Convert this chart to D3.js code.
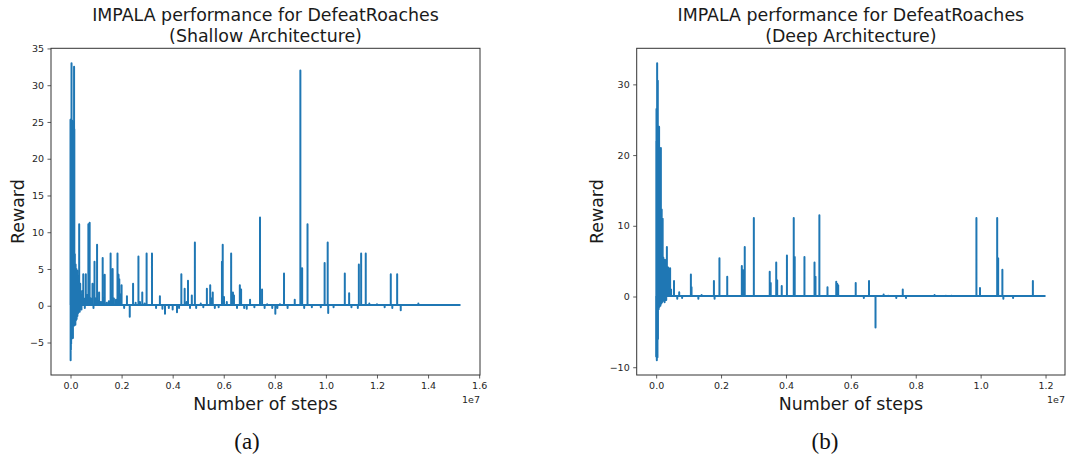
<!DOCTYPE html>
<html><head><meta charset="utf-8">
<script src="https://cdn.jsdelivr.net/npm/d3@7"></script>
<style>body{margin:0;background:#fff}svg{display:block}</style>
</head><body><svg id="c" width="1091" height="458"></svg>
<script>
// ---- data (steps in units of 1e7) ----
const titleA = ["IMPALA performance for DefeatRoaches", "(Shallow Architecture)"];
const titleB = ["IMPALA performance for DefeatRoaches", "(Deep Architecture)"];
const xTicksA = [0, 0.2, 0.4, 0.6, 0.8, 1.0, 1.2, 1.4, 1.6];
const yTicksA = [-5, 0, 5, 10, 15, 20, 25, 30, 35];
const xTicksB = [0, 0.2, 0.4, 0.6, 0.8, 1.0, 1.2];
const yTicksB = [-10, 0, 10, 20, 30];
const baselineA = 0.1, baselineB = 0.08;
const lastStepA = 1.527, lastStepB = 1.2;

const stepsA = [0.000,0.0005,0.001,0.0015,0.002,0.0025,0.003,0.0035,0.004,0.0045,0.005,0.0055,0.006,0.0065,0.007,0.0075,0.008,0.0085,0.009,0.0095,0.010,0.0105,0.011,0.0115,0.012,0.0125,0.013,0.0135,0.014,0.0145,0.015,0.016,0.017,0.018,0.019,0.020,0.021,0.022,0.023,0.024,0.025,0.026,0.027,0.028,0.029,0.030,0.031,0.032,0.034,0.036,0.038,0.041,0.043,0.046,0.050,0.053,0.056,0.060,0.063,0.067,0.070,0.075,0.079,0.086,0.090,0.094,0.098,0.104,0.108,0.112,0.119,0.126,0.130,0.134,0.142,0.150,0.157,0.162,0.165,0.170,0.178,0.184,0.188,0.191,0.195,0.200,0.210,0.221,0.232,0.245,0.255,0.266,0.272,0.281,0.290,0.298,0.319,0.335,0.350,0.360,0.370,0.385,0.400,0.417,0.425,0.434,0.447,0.455,0.460,0.468,0.475,0.487,0.492,0.510,0.520,0.534,0.547,0.552,0.557,0.565,0.580,0.593,0.596,0.601,0.612,0.629,0.636,0.640,0.652,0.663,0.668,0.680,0.690,0.703,0.720,0.742,0.750,0.760,0.770,0.790,0.802,0.810,0.820,0.836,0.850,0.878,0.900,0.904,0.907,0.915,0.928,0.945,0.980,0.995,1.007,1.009,1.030,1.074,1.091,1.100,1.125,1.129,1.138,1.156,1.170,1.200,1.230,1.254,1.260,1.279,1.293,1.362];
const rewardsA = [25.3,-7.4,24.0,-6.0,20.5,-5.2,25.0,-4.0,33.0,-4.5,24.5,-3.0,25.2,-3.5,18.0,-2.5,24.8,-2.0,25.0,-4.4,22.0,-1.8,14.0,-1.5,25.0,-2.2,20.0,-1.2,32.5,-2.7,24.0,-2.0,7.0,5.5,-2.6,5.6,-2.0,4.5,5.0,-1.8,3.5,4.8,-1.4,3.0,4.0,-1.0,2.0,2.5,11.1,-0.8,3.0,1.5,-0.5,2.0,4.3,1.0,-0.3,4.3,1.5,1.2,11.1,11.3,1.0,3.0,-0.3,6.0,1.0,8.3,0.6,1.8,0.5,6.5,1.0,4.2,0.4,0.6,7.1,2.0,5.0,1.0,0.8,7.1,4.2,3.6,1.5,2.8,-0.3,1.3,-1.5,3.0,0.4,6.7,0.5,1.8,0.3,7.1,7.1,-0.3,1.3,-0.4,-1.1,-0.3,-0.5,-0.9,-0.3,4.3,2.3,0.5,3.4,-0.3,1.4,8.6,-0.3,0.3,-0.2,2.3,2.8,1.0,1.8,-0.3,-0.2,6.0,8.3,1.2,0.5,7.1,1.8,1.4,-0.3,2.8,2.2,-0.3,-0.4,0.8,-0.2,12.0,2.2,-0.3,0.2,-0.3,-1.1,-0.3,0.2,4.4,-0.3,0.8,32.0,5.0,5.1,-0.3,11.1,-0.2,-0.2,5.8,8.6,-1.0,-0.2,4.4,1.7,-0.2,-0.3,5.6,7.1,7.1,0.3,0.2,-0.2,4.3,-0.3,4.3,-0.6,0.3];

const stepsB = [0.000,0.0005,0.001,0.0015,0.002,0.0025,0.003,0.0035,0.004,0.0045,0.005,0.0055,0.006,0.0065,0.007,0.0075,0.008,0.0085,0.009,0.0095,0.010,0.011,0.012,0.013,0.0145,0.015,0.016,0.017,0.018,0.019,0.020,0.021,0.022,0.023,0.024,0.025,0.026,0.027,0.028,0.029,0.030,0.031,0.033,0.035,0.037,0.039,0.043,0.046,0.055,0.065,0.071,0.080,0.107,0.109,0.130,0.140,0.178,0.180,0.195,0.219,0.264,0.268,0.273,0.301,0.350,0.353,0.370,0.373,0.387,0.403,0.424,0.427,0.457,0.488,0.491,0.503,0.528,0.555,0.558,0.561,0.615,0.640,0.656,0.676,0.701,0.715,0.740,0.760,0.770,0.858,0.893,0.910,0.987,0.998,1.051,1.054,1.067,1.070,1.100,1.161];
const rewardsB = [-8.5,22.0,26.5,-8.0,-9.0,24.0,33.0,-7.0,-8.6,26.0,30.5,-6.0,-1.5,22.0,2.3,-1.8,-1.5,20.0,24.0,-1.5,-1.2,2.5,21.0,-1.3,21.0,-1.0,-1.0,12.3,-0.8,4.0,11.0,2.0,5.5,-0.6,3.0,4.0,-0.8,5.2,-0.4,3.0,2.5,-0.5,7.0,1.5,4.1,0.5,4.0,1.0,2.2,-0.3,0.6,-0.2,3.1,1.3,-0.3,0.2,2.2,-0.3,5.4,2.8,4.3,3.7,7.0,11.1,3.5,1.9,4.8,2.3,1.5,5.8,11.1,5.6,5.6,4.8,2.8,11.5,1.3,2.1,1.8,1.6,1.9,-0.2,2.2,-4.4,0.3,0.1,-0.2,1.0,-0.2,0.2,0.1,0.1,11.1,1.2,11.1,5.4,3.8,-0.3,-0.2,2.2];

const FONT = "'DejaVu Sans', sans-serif";
const BLUE = "#1f77b4";
const svg = d3.select("#c");
svg.append("rect").attr("width",1091).attr("height",458).attr("fill","#fff");

function panel(opt){
  const {left,right,top,bottom,steps,rewards,base,lastStep,xTicks,yTicks,title,caption,capX} = opt;
  const xExt = [0, lastStep], yExt = d3.extent(rewards);
  const xm = (xExt[1]-xExt[0])*0.05, ym = (yExt[1]-yExt[0])*0.05;
  const x = d3.scaleLinear().domain([xExt[0]-xm, xExt[1]+xm]).range([left,right]);
  const y = d3.scaleLinear().domain([yExt[0]-ym, yExt[1]+ym]).range([bottom,top]);
  const g = svg.append("g");

  // series
  const pts = [];
  steps.forEach((s,i)=>{ pts.push([s,base],[s,rewards[i]],[s,base]); });
  pts.push([lastStep,base]);
  g.append("path").datum(pts)
    .attr("d", d3.line().x(d=>x(d[0])).y(d=>y(d[1])))
    .attr("fill","none").attr("stroke",BLUE).attr("stroke-width",2)
    .attr("stroke-linejoin","round").attr("stroke-linecap","butt");

  // axes
  const xa = g.append("g").attr("transform",`translate(0,${bottom})`)
    .call(d3.axisBottom(x).tickValues(xTicks).tickFormat(d3.format(".1f")).tickSizeOuter(0).tickSize(3.5).tickPadding(3.5));
  const ya = g.append("g").attr("transform",`translate(${left},0)`)
    .call(d3.axisLeft(y).tickValues(yTicks).tickFormat(d3.format("d")).tickSizeOuter(0).tickSize(3.5).tickPadding(3.5));
  [xa,ya].forEach(a=>{
    a.select(".domain").remove();
    a.selectAll("line").attr("stroke","#333").attr("stroke-width",0.8);
    a.selectAll("text").attr("font-family",FONT).attr("font-size",9.5).attr("fill","#262626");
  });
  g.append("rect").attr("x",left).attr("y",top).attr("width",right-left).attr("height",bottom-top)
    .attr("fill","none").attr("stroke","#333").attr("stroke-width",1);

  const cx = (left+right)/2;
  g.append("text").attr("x",cx).attr("y",21).attr("text-anchor","middle")
    .attr("font-family",FONT).attr("font-size",17.4).attr("fill","#1a1a1a").text(title[0]);
  g.append("text").attr("x",cx).attr("y",41.5).attr("text-anchor","middle")
    .attr("font-family",FONT).attr("font-size",17.4).attr("fill","#1a1a1a").text(title[1]);
  g.append("text").attr("x",cx).attr("y",410).attr("text-anchor","middle")
    .attr("font-family",FONT).attr("font-size",17.4).attr("fill","#1a1a1a").text("Number of steps");
  g.append("text").attr("transform",`translate(${opt.ylabX},${(top+bottom)/2}) rotate(-90)`)
    .attr("text-anchor","middle").attr("font-family",FONT).attr("font-size",17.4).attr("fill","#1a1a1a").text("Reward");
  g.append("text").attr("x",right).attr("y",402.7).attr("text-anchor","end")
    .attr("font-family",FONT).attr("font-size",9.5).attr("fill","#262626").text("1e7");
  g.append("text").attr("x",capX).attr("y",449).attr("text-anchor","middle")
    .attr("font-family","'Liberation Serif', serif").attr("font-size",23).attr("fill","#111").text(caption);
}

panel({left:51,right:480,top:48.3,bottom:375,steps:stepsA,rewards:rewardsA,base:baselineA,lastStep:lastStepA,
  xTicks:xTicksA,yTicks:yTicksA,title:titleA,caption:"(a)",capX:247,ylabX:23.5});
panel({left:636.7,right:1065,top:48.3,bottom:375,steps:stepsB,rewards:rewardsB,base:baselineB,lastStep:lastStepB,
  xTicks:xTicksB,yTicks:yTicksB,title:titleB,caption:"(b)",capX:825,ylabX:603});
</script></body></html>
